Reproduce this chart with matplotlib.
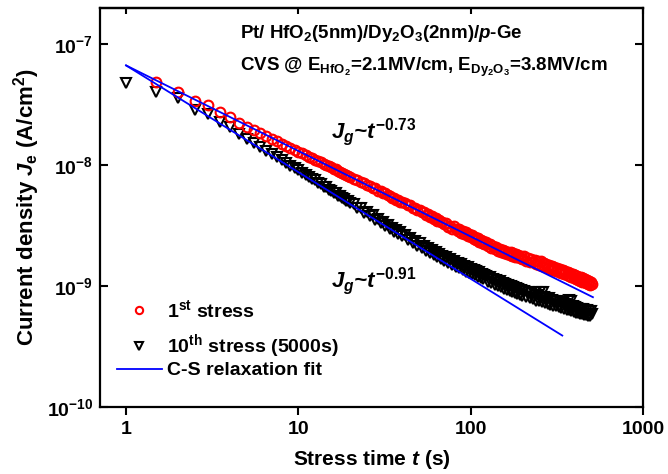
import numpy as np
import matplotlib
matplotlib.use("Agg")
import matplotlib.pyplot as plt

plt.rcParams['font.family'] = ['Liberation Sans', 'DejaVu Sans']
plt.rcParams['font.weight'] = 'bold'
plt.rcParams['mathtext.fontset'] = 'custom'
plt.rcParams['mathtext.rm'] = 'Liberation Sans:bold'
plt.rcParams['mathtext.it'] = 'Liberation Sans:italic:bold'
plt.rcParams['mathtext.bf'] = 'Liberation Sans:bold'
plt.rcParams['mathtext.sf'] = 'Liberation Sans:bold'

# ---- 1st stress (red circles), J in units of 1e-9 A/cm^2 ----
t_first = ([1.5, 2, 2.5, 3, 3.5, 4, 4.5, 5, 5.5, 6, 6.5, 7, 7.5, 8, 8.5, 9, 9.5,
            10, 10.5, 11, 11.5, 12, 12.5, 13, 13.5, 14, 14.5, 15, 15.5, 16, 16.5,
            17, 17.5, 18, 18.5, 19, 19.5, 20]
           + [21, 22, 23, 24, 25, 26, 27, 28, 29, 30, 31, 32, 33, 34, 35, 36, 37, 38, 39, 40]
           + [41.5, 43, 44.5, 46, 47.5, 49, 50.5, 52, 53.5, 55, 56.5, 58, 59.5, 61,
              62.5, 64, 65.5, 67, 68.5, 70]
           + [72, 74, 76, 78, 80, 82, 84, 86, 88, 90, 92, 94, 96, 98, 100, 102, 104,
              106, 108, 110, 112, 114, 116, 118, 120]
           + [123, 126, 129, 132, 135, 138, 141, 144, 147, 150, 153, 156, 159, 162,
              165, 168, 171, 174, 177, 180, 183, 186, 189, 192, 195, 198]
           + [205, 210, 215, 220, 225, 230, 235, 240, 245, 250, 255, 260, 265, 270,
              275, 280, 285, 290, 295, 300]
           + [306, 312, 318, 324, 330, 336, 342, 348, 354, 360, 366, 372, 378, 384,
              390, 396, 402, 408, 414, 420, 426, 432, 438, 444, 450, 456, 462, 468,
              474, 480, 486, 492, 498, 503])
J_first = ([48.9, 40.3, 33.8, 31.3, 27.6, 25.0, 22.5, 20.7, 19.6, 18.4, 17.5, 16.6, 15.8,
            15.1, 14.4, 13.9, 13.4,
            12.9, 12.6, 12.1, 11.8, 11.4, 11.15, 10.8, 10.6, 10.3, 10.1, 9.8, 9.65, 9.4,
            9.25, 9.0, 8.85, 8.65, 8.52, 8.35, 8.22, 8.05]
           + [7.72, 7.6, 7.25, 7.17, 6.85, 6.79, 6.5, 6.45, 6.18, 6.15, 5.9, 5.87, 5.64,
              5.62, 5.4, 5.39, 5.19, 5.19, 4.99, 4.99]
           + [4.86, 4.66, 4.65, 4.47, 4.45, 4.25, 4.28, 4.09, 4.1, 3.9, 3.95, 3.76, 3.8,
              3.61, 3.65, 3.47, 3.53, 3.37, 3.4, 3.26]
           + [3.34, 3.08, 3.15, 2.95, 3.14, 2.97, 2.86, 2.97, 2.75, 2.85, 2.7, 2.79, 2.6,
              2.7, 2.55, 2.64, 2.45, 2.55, 2.42, 2.5, 2.33, 2.43, 2.27, 2.38, 2.24]
           + [2.3, 2.14, 2.24, 2.08, 2.16, 2.03, 2.1, 1.96, 2.04, 1.91, 1.99, 1.88, 1.97,
              1.84, 1.93, 1.81, 1.9, 1.78, 1.87, 1.75, 1.84, 1.73, 1.82, 1.70, 1.79, 1.69]
           + [1.76, 1.62, 1.72, 1.59, 1.68, 1.57, 1.65, 1.52, 1.62, 1.50, 1.60, 1.46, 1.56,
              1.44, 1.53, 1.41, 1.50, 1.39, 1.48, 1.37]
           + [1.44, 1.34, 1.42, 1.31, 1.39, 1.28, 1.36, 1.26, 1.34, 1.24, 1.31, 1.21, 1.29,
              1.19, 1.27, 1.17, 1.24, 1.15, 1.22, 1.13, 1.2, 1.11, 1.18, 1.09, 1.16, 1.08,
              1.15, 1.06, 1.13, 1.05, 1.11, 1.03, 1.09, 1.04])

# ---- 10th stress (black triangles), J in units of 1e-9 A/cm^2 ----
t_tenth = ([1, 1.5, 2, 2.5, 3, 3.5, 4, 4.5, 5, 5.5, 6, 6.5, 7, 7.5, 8, 8.5, 9, 9.5,
            10, 10.5, 11, 11.5, 12, 12.5, 13, 13.5, 14, 14.5, 15, 15.5, 16, 16.5,
            17, 17.5, 18, 18.5, 19, 19.5, 20]
           + [21, 22, 23, 24, 25, 26, 27, 28, 29, 30, 31, 32, 33, 34, 35, 36, 37, 38, 39, 40]
           + [41.5, 43, 44.5, 46, 47.5, 49, 50.5, 52, 53.5, 55, 56.5, 58, 59.5, 61,
              62.5, 64, 65.5, 67, 68.5, 70]
           + [72, 74, 76, 78, 80, 82, 84, 86, 88, 90, 92, 94, 96, 98, 100, 102, 104,
              106, 108, 110, 112, 114, 116, 118, 120]
           + [123, 126, 129, 132, 135, 138, 141, 144, 147, 150, 153, 156, 159, 162,
              165, 168, 171, 174, 177, 180, 183, 186, 189, 192, 195, 198]
           + [205, 210, 215, 220, 225, 230, 235, 238, 240, 245, 250, 252, 255, 260,
              262, 265, 270, 275, 280, 285, 290, 295, 300]
           + [306, 312, 318, 324, 330, 336, 342, 348, 354, 360, 366, 370, 372, 378,
              381, 384, 390, 396, 402, 408, 414, 420, 426, 432, 438, 444, 450, 456,
              462, 468, 474, 480, 486, 492, 498, 503])
J_tenth = ([48.0, 40.4, 36.0, 28.8, 26.7, 22.8, 20.7, 18.0, 16.6, 15.3, 14.2, 13.2, 12.4,
            11.6, 11.0, 10.4, 9.9, 9.45,
            9.05, 8.7, 8.25, 8.05, 7.65, 7.48, 7.1, 6.98, 6.65, 6.56, 6.25, 6.18, 5.9,
            5.86, 5.6, 5.56, 5.33, 5.3, 5.08, 5.05, 4.85]
           + [4.82, 4.4, 4.43, 4.05, 4.12, 3.78, 3.85, 3.53, 3.6, 3.32, 3.4, 3.14, 3.22,
              2.98, 3.05, 2.83, 2.91, 2.7, 2.78, 2.6]
           + [2.66, 2.41, 2.5, 2.28, 2.38, 2.16, 2.26, 2.05, 2.15, 1.97, 2.07, 1.88, 1.98,
              1.81, 1.91, 1.74, 1.84, 1.68, 1.77, 1.62]
           + [1.73, 1.55, 1.67, 1.49, 1.61, 1.45, 1.56, 1.4, 1.52, 1.36, 1.47, 1.32, 1.43,
              1.29, 1.39, 1.26, 1.36, 1.23, 1.33, 1.2, 1.3, 1.17, 1.27, 1.15, 1.24]
           + [1.22, 1.09, 1.19, 1.06, 1.15, 1.03, 1.12, 1.0, 1.1, 0.98, 1.07, 0.95, 1.04,
              0.93, 1.02, 0.91, 1.0, 0.89, 0.98, 0.87, 0.96, 0.86, 0.94, 0.85, 0.93, 0.83]
           + [0.91, 0.81, 0.89, 0.79, 0.87, 0.78, 0.85, 0.90, 0.76, 0.84, 0.75, 0.89, 0.82,
              0.74, 0.90, 0.81, 0.72, 0.80, 0.71, 0.79, 0.70, 0.77, 0.69]
           + [0.76, 0.68, 0.75, 0.67, 0.74, 0.66, 0.72, 0.65, 0.71, 0.64, 0.70, 0.77, 0.63,
              0.69, 0.76, 0.62, 0.68, 0.61, 0.67, 0.60, 0.66, 0.60, 0.65, 0.59, 0.65, 0.585,
              0.645, 0.58, 0.64, 0.575, 0.63, 0.57, 0.625, 0.565, 0.62, 0.585])

# ---- C-S relaxation fits (end points of the straight lines on log-log axes) ----
t_fit_first = [1, 512]
J_fit_first = [67, 0.81]
t_fit_tenth = [1, 340]
J_fit_tenth = [67, 0.39]

fig = plt.figure(figsize=(6.68, 4.74), dpi=100)
ax = fig.add_axes([0.1497, 0.1414, 0.8129, 0.8417])

h_black, = ax.plot(t_tenth, np.array(J_tenth) * 1e-9, linestyle='none', marker='v', ms=7,
                   mfc='none', mec='black', mew=1.5)
h_red, = ax.plot(t_first, np.array(J_first) * 1e-9, linestyle='none', marker='o', ms=7,
                 mfc='none', mec='#ff0000', mew=1.5)
h_fit, = ax.plot(t_fit_first, np.array(J_fit_first) * 1e-9, color='#0000ff', lw=1.3)
ax.plot(t_fit_tenth, np.array(J_fit_tenth) * 1e-9, color='#0000ff', lw=1.3)

ax.set_xscale('log')
ax.set_yscale('log')
ax.set_xlim(0.706, 1000)
ax.set_ylim(1e-10, 2e-7)

ax.set_xticks([1, 10, 100, 1000], ['1', '10', '100', '1000'])
ax.set_yticks([1e-10, 1e-9, 1e-8, 1e-7],
              [r'$\mathbf{10^{-10}}$', r'$\mathbf{10^{-9}}$', r'$\mathbf{10^{-8}}$', r'$\mathbf{10^{-7}}$'])
ax.minorticks_off()
ax.tick_params(axis='x', which='major', direction='out', length=6, width=1.5,
               labelsize=14, pad=4, top=False)
ax.tick_params(axis='y', which='major', direction='in', length=6, width=1.5,
               labelsize=14, pad=5, left=True, right=True)
top = ax.secondary_xaxis('top')
top.set_xticks([1, 10, 100, 1000])
top.minorticks_off()
top.tick_params(direction='in', length=4, width=1.5, labeltop=False)
for s in ax.spines.values():
    s.set_linewidth(1.6)
top.spines['top'].set_linewidth(1.6)

ax.set_xlabel(r'Stress time $t$ (s)', fontsize=15, fontweight='bold', labelpad=7)
ax.set_ylabel(r'Current density $J_\mathrm{e}$ (A/cm$^2$)', fontsize=16,
              fontweight='bold', labelpad=3)

ax.text(0.258, 0.937, r'Pt/ HfO$_2$(5nm)/Dy$_2$O$_3$(2nm)/$p$-Ge', transform=ax.transAxes,
        fontsize=13.5, fontweight='bold', ha='left', va='center')
ax.text(0.258, 0.852, r'CVS @ E$_{\mathrm{HfO_2}}$=2.1MV/cm, E$_{\mathrm{Dy_2O_3}}$=3.8MV/cm',
        transform=ax.transAxes, fontsize=13.5, fontweight='bold', ha='left', va='center')
ax.text(0.425, 0.674, r'$J_g$~$t^{\mathit{-0.73}}$', transform=ax.transAxes,
        fontsize=16, fontweight='bold', style='italic', ha='left', va='baseline')
ax.text(0.425, 0.302, r'$J_g$~$t^{\mathit{-0.91}}$', transform=ax.transAxes,
        fontsize=16, fontweight='bold', style='italic', ha='left', va='baseline')

leg_kw = dict(frameon=False, fontsize=14, markerscale=0.75, handlelength=2.3,
              handletextpad=0.26, borderpad=0, borderaxespad=0)
leg1 = ax.legend([h_red, h_black], [r'1$^{\mathbf{st}}$ stress', r'10$^{\mathbf{th}}$ stress (5000s)'],
                 loc='center left', bbox_to_anchor=(0.031, 0.194), labelspacing=0.6, **leg_kw)
ax.add_artist(leg1)
ax.legend([h_fit], ['C-S relaxation fit'], loc='center left',
          bbox_to_anchor=(0.031, 0.091), **leg_kw)

fig.savefig('out.png', dpi=100)
